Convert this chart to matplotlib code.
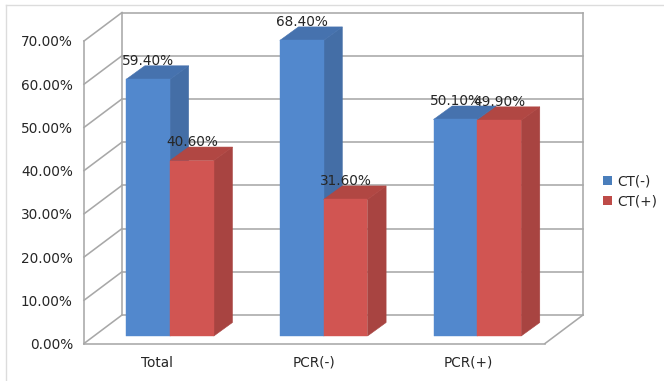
import matplotlib
matplotlib.use("Agg")
import matplotlib.pyplot as plt
from matplotlib.lines import Line2D
from matplotlib.patches import Polygon, Patch
from matplotlib.transforms import ScaledTranslation

categories = ["Total", "PCR(-)", "PCR(+)"]
ct_negative = [59.4, 68.4, 50.1]
ct_positive = [40.6, 31.6, 49.9]
y_ticks = [0, 10, 20, 30, 40, 50, 60, 70]

W, H = 664, 381
AX_L, AX_R, AX_B, AX_T = 84, 545, 343.5, 41  # pixels from the top-left corner
fig = plt.figure(figsize=(W / 100, H / 100), dpi=100)
plt.rcParams["font.family"] = "DejaVu Sans"
ax = fig.add_axes([AX_L / W, 1 - AX_B / H, (AX_R - AX_L) / W, (AX_B - AX_T) / H])
ax.set_xlim(-0.5, 2.5)
ax.set_ylim(0, 70)

# Pixel distances expressed in data units
px_x = 3 / (AX_R - AX_L)
px_y = 70 / (AX_B - AX_T)
wall_dx, wall_dy = 38 * px_x, 28.5 * px_y
bar_dx, bar_dy = 18.6 * px_x, 13.5 * px_y
shift_x, shift_y = 9.2 * px_x, 7.5 * px_y
bar_w = 43.8 * px_x

GRID = "#a8a8a8"
TEXT = "#262626"
line_kw = dict(color=GRID, lw=1.15, clip_on=False, zorder=1, solid_capstyle="projecting")

# Back wall, side wall and floor of the box
for t in y_ticks:
    ax.plot([-0.5 + wall_dx, 2.5 + wall_dx], [t + wall_dy] * 2, **line_kw)
    ax.plot([-0.5, -0.5 + wall_dx], [t, t + wall_dy], **line_kw)
ax.plot([-0.5, -0.5], [0, 70], **line_kw)
ax.plot([-0.5 + wall_dx] * 2, [wall_dy, 70 + wall_dy], **line_kw)
ax.plot([2.5 + wall_dx] * 2, [wall_dy, 70 + wall_dy], **line_kw)
ax.plot([-0.5, 2.5], [0, 0], **line_kw)
ax.plot([2.5, 2.5 + wall_dx], [0, wall_dy], **line_kw)


def draw_series(values, x_shift, front, top, side, z):
    for i, v in enumerate(values):
        x0 = i + shift_x + x_shift
        x1 = x0 + bar_w
        y0 = shift_y
        y1 = shift_y + v
        ax.add_patch(Polygon([(x1, y0), (x1 + bar_dx, y0 + bar_dy),
                              (x1 + bar_dx, y1 + bar_dy), (x1, y1)],
                             fc=side, ec=side, lw=0.4, clip_on=False, zorder=z))
        ax.add_patch(Polygon([(x0, y1), (x1, y1), (x1 + bar_dx, y1 + bar_dy),
                              (x0 + bar_dx, y1 + bar_dy)],
                             fc=top, ec=top, lw=0.4, clip_on=False, zorder=z))
        ax.bar(x0, v, width=bar_w, bottom=y0, align="edge", color=front,
               edgecolor=front, linewidth=0.3, clip_on=False, zorder=z + 0.1)
        ax.annotate(f"{v:.2f}%", (x0 + bar_w / 2, y1), xytext=(0, 18.5 * 0.72),
                    textcoords="offset points", ha="center", va="center",
                    fontsize=9.8, color=TEXT, zorder=10, annotation_clip=False)


draw_series(ct_negative, -bar_w, "#5288cd", "#4672ae", "#446ea6", 3)
draw_series(ct_positive, 0, "#d15552", "#b14743", "#a84441", 4)

ax.set_xticks(range(len(categories)), categories)
ax.set_yticks(y_ticks, [f"{t:.2f}%" for t in y_ticks])
ax.tick_params(axis="x", length=0, pad=9, labelsize=9.8, labelcolor=TEXT)
ax.tick_params(axis="y", length=0, pad=8, labelsize=9.8, labelcolor=TEXT)
for spine in ax.spines.values():
    spine.set_visible(False)
ax.patch.set_alpha(0)

# The first category label sits slightly left of its slot
first = ax.get_xticklabels()[0]
first.set_transform(first.get_transform() + ScaledTranslation(-4 / 100, 0, fig.dpi_scale_trans))

handles = [Patch(fc="#4a7ebb", label="CT(-)"), Patch(fc="#be4b48", label="CT(+)")]
fig.legend(handles=handles, loc="center left", frameon=False, fontsize=9.8,
           bbox_to_anchor=(600.5 / W, 1 - 191.5 / H), handlelength=0.65, handleheight=0.65,
           handletextpad=0.35, labelspacing=0.43, borderpad=0.2, borderaxespad=0,
           labelcolor=TEXT)

# Thin frame along the top and left edges of the chart area
for xs, ys in (([5.5 / W, 1], [1 - 4.5 / H, 1 - 4.5 / H]), ([5.5 / W, 5.5 / W], [0, 1 - 4.5 / H])):
    fig.add_artist(Line2D(xs, ys, color="#dcdcdc", lw=1.0, transform=fig.transFigure))

fig.savefig("out.png", dpi=100)
